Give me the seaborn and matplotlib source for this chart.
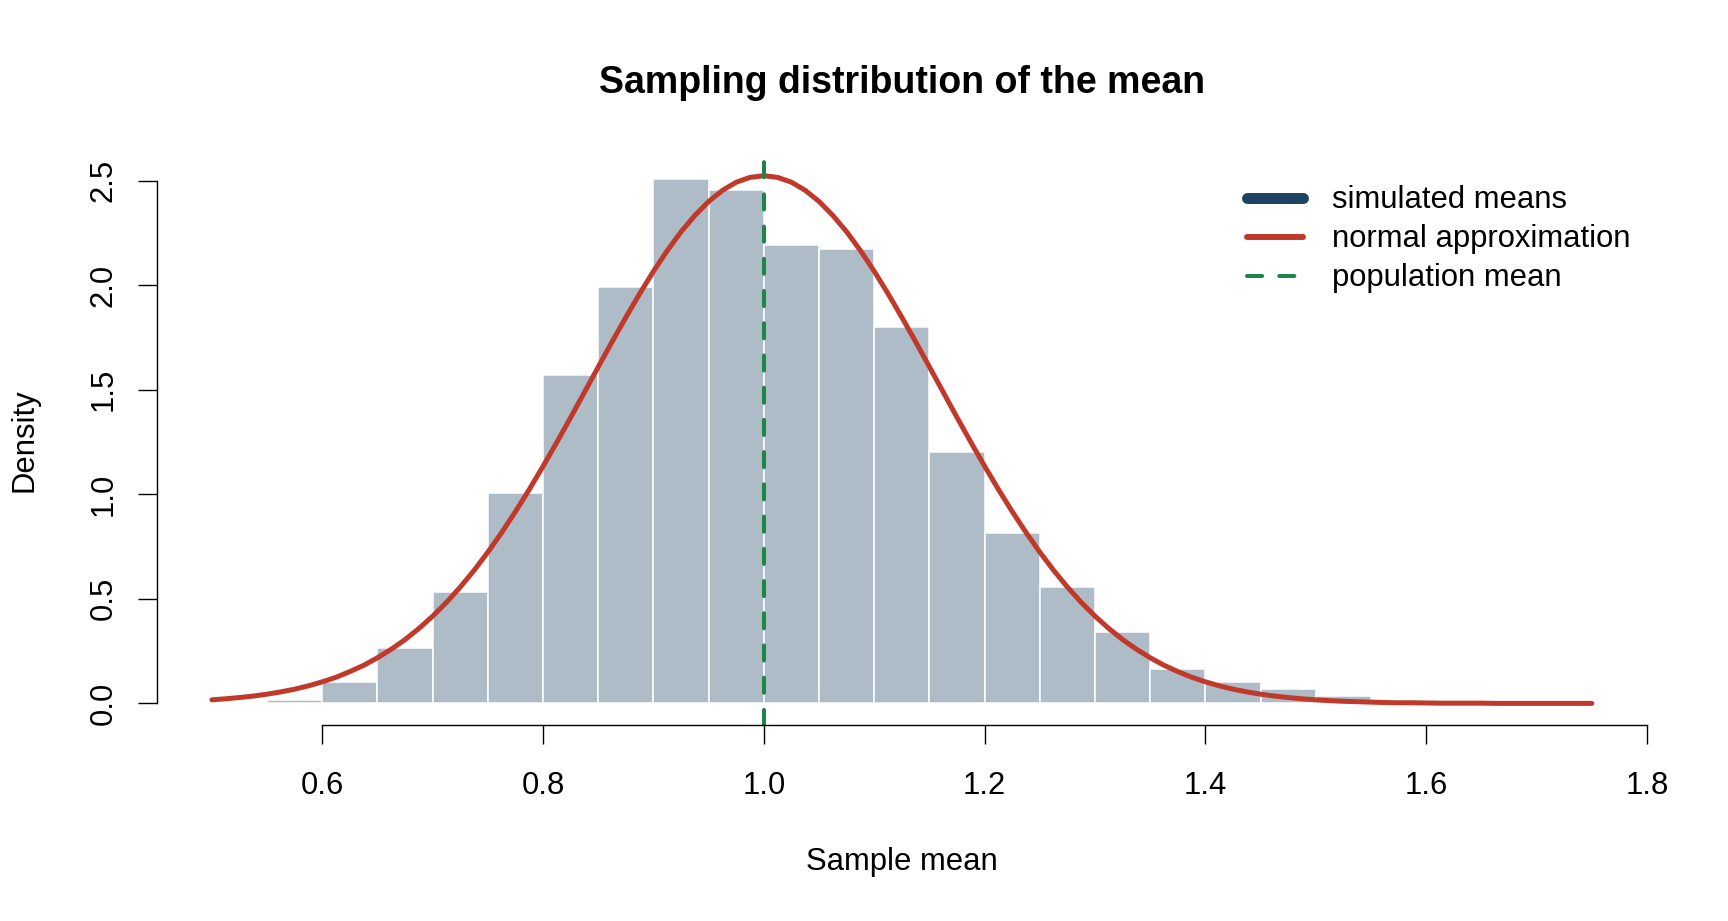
import numpy as np
import matplotlib
matplotlib.use("Agg")
import matplotlib.pyplot as plt
import seaborn as sns
from matplotlib.lines import Line2D

# --- data ---
bin_left = [0.55, 0.60, 0.65, 0.70, 0.75, 0.80, 0.85, 0.90, 0.95, 1.00,
            1.05, 1.10, 1.15, 1.20, 1.25, 1.30, 1.35, 1.40, 1.45, 1.50]
density = [0.017, 0.104, 0.266, 0.533, 1.005, 1.568, 1.990, 2.505, 2.453, 2.194,
           2.172, 1.799, 1.201, 0.814, 0.557, 0.342, 0.165, 0.104, 0.069, 0.036]
bin_width = 0.05

# normal approximation curve, sampled like R's curve() (101 points)
curve_x = [0.5000, 0.5125, 0.5250, 0.5375, 0.5500, 0.5625, 0.5750, 0.5875, 0.6000, 0.6125,
           0.6250, 0.6375, 0.6500, 0.6625, 0.6750, 0.6875, 0.7000, 0.7125, 0.7250, 0.7375,
           0.7500, 0.7625, 0.7750, 0.7875, 0.8000, 0.8125, 0.8250, 0.8375, 0.8500, 0.8625,
           0.8750, 0.8875, 0.9000, 0.9125, 0.9250, 0.9375, 0.9500, 0.9625, 0.9750, 0.9875,
           1.0000, 1.0125, 1.0250, 1.0375, 1.0500, 1.0625, 1.0750, 1.0875, 1.1000, 1.1125,
           1.1250, 1.1375, 1.1500, 1.1625, 1.1750, 1.1875, 1.2000, 1.2125, 1.2250, 1.2375,
           1.2500, 1.2625, 1.2750, 1.2875, 1.3000, 1.3125, 1.3250, 1.3375, 1.3500, 1.3625,
           1.3750, 1.3875, 1.4000, 1.4125, 1.4250, 1.4375, 1.4500, 1.4625, 1.4750, 1.4875,
           1.5000, 1.5125, 1.5250, 1.5375, 1.5500, 1.5625, 1.5750, 1.5875, 1.6000, 1.6125,
           1.6250, 1.6375, 1.6500, 1.6625, 1.6750, 1.6875, 1.7000, 1.7125, 1.7250, 1.7375,
           1.7500]
curve_y = [0.017, 0.022, 0.028, 0.035, 0.044, 0.055, 0.068, 0.084, 0.103, 0.125,
           0.152, 0.182, 0.218, 0.259, 0.305, 0.358, 0.417, 0.483, 0.556, 0.636,
           0.723, 0.817, 0.917, 1.023, 1.134, 1.249, 1.367, 1.488, 1.609, 1.729,
           1.846, 1.959, 2.066, 2.165, 2.255, 2.333, 2.400, 2.453, 2.492, 2.515,
           2.523, 2.515, 2.492, 2.453, 2.400, 2.333, 2.255, 2.165, 2.066, 1.959,
           1.846, 1.729, 1.609, 1.488, 1.367, 1.249, 1.134, 1.023, 0.917, 0.817,
           0.723, 0.636, 0.556, 0.483, 0.417, 0.358, 0.305, 0.259, 0.218, 0.182,
           0.152, 0.125, 0.103, 0.084, 0.068, 0.055, 0.044, 0.035, 0.028, 0.022,
           0.017, 0.013, 0.010, 0.008, 0.006, 0.004, 0.003, 0.003, 0.002, 0.001,
           0.001, 0.001, 0.001, 0.000, 0.000, 0.000, 0.000, 0.000, 0.000, 0.000,
           0.000]
pop_mean = 1.0

x_ticks = [0.6, 0.8, 1.0, 1.2, 1.4, 1.6, 1.8]
y_ticks = [0.0, 0.5, 1.0, 1.5, 2.0, 2.5]
legend_labels = ["simulated means", "normal approximation", "population mean"]

BAR = "#ADBCC6"
RED = "#C0392B"
GREEN = "#1E8449"
NAVY = "#1A4461"

W, H = 1728, 921
FS = 22.3

sns.set_style("white", {"axes.edgecolor": "black", "xtick.color": "black",
                        "ytick.color": "black", "text.color": "black",
                        "axes.labelcolor": "black"})
plt.rcParams["font.family"] = ["Liberation Sans", "DejaVu Sans"]

fig = plt.figure(figsize=(W / 100, H / 100), dpi=100)
ax = fig.add_axes([156.7 / W, 1 - 724.5 / H, (1647 - 156.7) / W, (724.5 - 154.6) / H])

# histogram (heights already densities, passed as weights)
mids = np.array(bin_left) + bin_width / 2
edges = list(bin_left) + [bin_left[-1] + bin_width]
sns.histplot(x=mids, weights=density, bins=edges, color=BAR, alpha=1,
             edgecolor="white", linewidth=1.1, ax=ax)

# normal approximation
sns.lineplot(x=curve_x, y=curve_y, color=RED, linewidth=3.6, estimator=None,
             sort=False, solid_capstyle="round", solid_joinstyle="round", ax=ax)

# population mean
ax.axvline(pop_mean, color=GREEN, linewidth=2.9, dashes=(3.75, 4.25),
           dash_capstyle="round")

ax.set_xlim(0.45, 1.80)
ax.set_ylim(-0.101, 2.624)
ax.grid(False)

ax.set_xticks(x_ticks)
ax.set_xticklabels([f"{t:.1f}" for t in x_ticks])
ax.set_yticks(y_ticks)
ax.set_yticklabels([f"{t:.1f}" for t in y_ticks], rotation=90, va="center")

for side in ["top", "right"]:
    ax.spines[side].set_visible(False)
ax.spines["left"].set_bounds(0, 2.5)
ax.spines["bottom"].set_bounds(0.6, 1.8)
for side in ["left", "bottom"]:
    ax.spines[side].set_linewidth(1.0)
    ax.spines[side].set_color("black")

ax.tick_params(axis="both", which="major", direction="out", length=13.7,
               width=1.0, labelsize=FS, bottom=True, left=True, colors="black")
ax.tick_params(axis="x", pad=19.5)
ax.tick_params(axis="y", pad=13.5)

ax.set_xlabel("Sample mean", fontsize=FS)
ax.xaxis.set_label_coords(901.5 / W, 1 - 862 / H, transform=fig.transFigure)
ax.xaxis.label.set_va("center")
ax.set_ylabel("Density", fontsize=FS)
ax.yaxis.set_label_coords(25 / W, 1 - 440 / H, transform=fig.transFigure)
ax.yaxis.label.set_va("center")
ax.yaxis.label.set_ha("center")

fig.text(902 / W, 1 - 93 / H, "Sampling distribution of the mean",
         ha="center", va="baseline", fontsize=27, fontweight="bold")

handles = [
    Line2D([0], [0], color=NAVY, linewidth=7.9, solid_capstyle="round"),
    Line2D([0], [0], color=RED, linewidth=4.3, solid_capstyle="round"),
    Line2D([0], [0], color=GREEN, linewidth=2.9, dashes=(3.75, 4.25),
           dash_capstyle="round"),
]
ax.legend(handles=handles, labels=legend_labels, loc="upper left",
          bbox_to_anchor=(1247 / W, 1 - 185.4 / H), bbox_transform=fig.transFigure,
          frameon=False, fontsize=FS, handlelength=1.81, handletextpad=0.93,
          labelspacing=0.29, borderpad=0, borderaxespad=0)

fig.savefig("out.png", dpi=100, facecolor="white")
